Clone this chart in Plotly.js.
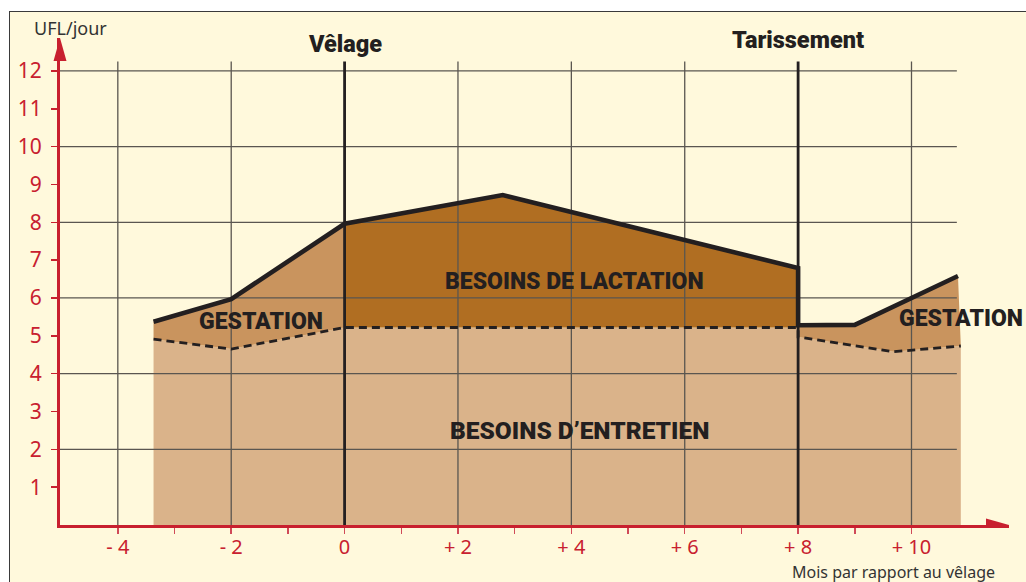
<!DOCTYPE html>
<html>
<head>
<meta charset="utf-8">
<script src="https://cdn.plot.ly/plotly-3.0.1.min.js"></script>
<style>
  html, body { margin:0; padding:0; background:#ffffff; width:1026px; height:582px; overflow:hidden; }
  #frame { position:absolute; left:9px; top:11px; width:1030px; height:580px; background:#FFF9DC;
           border-left:1.5px solid #3a3a3a; border-top:1.5px solid #3a3a3a; }
  #chart { position:absolute; left:0; top:0; width:1026px; height:582px; }
</style>
</head>
<body>
<div id="frame"></div>
<div id="chart"></div>
<script>
// ---- data ----
const tickMonths = [-4, -3, -2, -1, 0, 1, 2, 3, 4, 5, 6, 7, 8, 9, 10];
const tickMonthLabels = ['- 4', '', '- 2', '', '0', '', '+ 2', '', '+ 4', '', '+ 6', '', '+ 8', '', '+ 10'];
const tickUFL = [1, 2, 3, 4, 5, 6, 7, 8, 9, 10, 11, 12];
const gridMonths = [-4, -2, 2, 4, 6, 10];
const gridUFL = [2, 4, 6, 8, 10, 12];
const eventMonths = [0, 8];
const eventLabels = ['Vêlage', 'Tarissement'];

// besoins d'entretien (dashed line)
const entretienMonths = [-3.37, -2, 0, 8, 8, 9.68, 10.87];
const entretienUFL    = [4.91, 4.65, 5.22, 5.22, 4.97, 4.58, 4.73];
// total needs (solid line), by period
const gestationLeftMonths  = [-3.37, -2, 0];
const gestationLeftUFL     = [5.37, 5.97, 7.96];
const lactationMonths      = [0, 2.79, 8];
const lactationUFL         = [7.96, 8.72, 6.79];
const gestationRightMonths = [8, 9, 10.82];
const gestationRightUFL    = [5.28, 5.29, 6.58];

// ---- styles ----
const RED = '#C8202F';
const INK = '#231F20';
const GRID = '#5a5650';
const C_ENTRETIEN = '#DAB38A';
const C_GESTATION = '#C9945E';
const C_LACTATION = '#B06E22';
const GRID_TOP = 12.25, GRID_RIGHT = 10.8;
const TICKFONT = 'Noto Sans, sans-serif';
const BOLDFONT = 'Roboto, Arial, sans-serif';

function polygon(topX, topY, botX, botY) {
  return { x: topX.concat(botX.slice().reverse()), y: topY.concat(botY.slice().reverse()) };
}
const pGL = polygon(gestationLeftMonths, gestationLeftUFL, entretienMonths.slice(0, 3), entretienUFL.slice(0, 3));
const pL  = polygon(lactationMonths, lactationUFL, entretienMonths.slice(2, 4), entretienUFL.slice(2, 4));
const pGR = polygon(gestationRightMonths, gestationRightUFL, entretienMonths.slice(4), entretienUFL.slice(4));

const traces = [];
traces.push({ x: entretienMonths, y: entretienUFL, type: 'scatter', mode: 'lines', fill: 'tozeroy',
  fillcolor: C_ENTRETIEN, line: { width: 0 } });
traces.push({ x: pGL.x, y: pGL.y, type: 'scatter', mode: 'lines', fill: 'toself', fillcolor: C_GESTATION, line: { width: 0 } });
traces.push({ x: pL.x, y: pL.y, type: 'scatter', mode: 'lines', fill: 'toself', fillcolor: C_LACTATION, line: { width: 0 } });
traces.push({ x: pGR.x, y: pGR.y, type: 'scatter', mode: 'lines', fill: 'toself', fillcolor: C_GESTATION, line: { width: 0 } });

// grid lines (drawn above fills)
const gvx = [], gvy = [];
gridMonths.forEach(m => { gvx.push(m, m, null); gvy.push(0, GRID_TOP, null); });
const ghx = [], ghy = [];
gridUFL.forEach(v => { ghx.push(-5.02, GRID_RIGHT, null); ghy.push(v, v, null); });
traces.push({ x: gvx, y: gvy, type: 'scatter', mode: 'lines', line: { color: GRID, width: 1.3 } });
traces.push({ x: ghx, y: ghy, type: 'scatter', mode: 'lines', line: { color: GRID, width: 1.3 } });

// event lines
const evx = [], evy = [];
eventMonths.forEach(m => { evx.push(m, m, null); evy.push(0, GRID_TOP, null); });
traces.push({ x: evx, y: evy, type: 'scatter', mode: 'lines', line: { color: INK, width: 2.8 } });

// dashed entretien line
traces.push({ x: entretienMonths, y: entretienUFL, type: 'scatter', mode: 'lines',
  line: { color: INK, width: 2.8, dash: '8px,5px' } });

// solid total line
const solidX = gestationLeftMonths.concat(lactationMonths.slice(1), gestationRightMonths);
const solidY = gestationLeftUFL.concat(lactationUFL.slice(1), gestationRightUFL);
traces.push({ x: solidX, y: solidY, type: 'scatter', mode: 'lines', line: { color: INK, width: 4.6 } });

const boldFont = (s) => ({ family: BOLDFONT, size: s, color: INK, weight: 900 });
const C = { xanchor: 'center', yanchor: 'middle', showarrow: false };

const annotations = [
  Object.assign({ text: 'UFL/jour', xref: 'paper', yref: 'paper', x: 0.011, y: 1.0205,
    font: { family: TICKFONT, size: 18, color: '#333333' } }, C),
  Object.assign({ text: eventLabels[0], xref: 'x', yref: 'paper', x: eventMonths[0], y: 0.988, font: boldFont(23.5) }, C),
  Object.assign({ text: eventLabels[1], xref: 'x', yref: 'paper', x: eventMonths[1], y: 0.996, font: boldFont(23.5) }, C),
  Object.assign({ text: 'GESTATION', x: -1.48, y: 5.37, font: boldFont(23) }, C),
  Object.assign({ text: 'GESTATION', x: 10.88, y: 5.47, font: boldFont(23) }, C),
  Object.assign({ text: 'BESOINS DE LACTATION', x: 4.05, y: 6.44, font: boldFont(23) }, C),
  Object.assign({ text: 'BESOINS D’ENTRETIEN', x: 4.14, y: 2.51, font: boldFont(24.5) }, C),
  Object.assign({ text: 'Mois par rapport au vêlage', xref: 'paper', yref: 'paper', x: 0.878, y: -0.0955,
    font: { family: TICKFONT, size: 16, color: '#333333' } }, C)
];

const layout = {
  width: 1026, height: 582,
  margin: { l: 60, r: 17, t: 38, b: 57 },
  paper_bgcolor: 'rgba(0,0,0,0)', plot_bgcolor: 'rgba(0,0,0,0)',
  showlegend: false,
  xaxis: { range: [-5.02, 11.72], tickvals: tickMonths, ticktext: tickMonthLabels,
    showgrid: false, zeroline: false, showline: true, linecolor: RED, linewidth: 3,
    ticks: 'outside', ticklen: 6, tickwidth: 1.5, tickcolor: '#d04a58',
    tickfont: { family: TICKFONT, size: 20, color: RED }, ticklabelstandoff: -4, fixedrange: true },
  yaxis: { range: [0, 12.87], tickvals: tickUFL,
    showgrid: false, zeroline: false, showline: true, linecolor: RED, linewidth: 3,
    ticks: 'outside', ticklen: 6, tickwidth: 1.5, tickcolor: RED,
    tickfont: { family: TICKFONT, size: 21, color: RED }, ticklabelstandoff: 5, fixedrange: true },
  annotations: annotations,
  shapes: [
    { type: 'path', xref: 'paper', yref: 'y', xsizemode: 'pixel', ysizemode: 'pixel', xanchor: 1, yanchor: 0,
      path: 'M0,0 L-23,6.5 L-23,-6.5 Z', fillcolor: RED, line: { width: 0 } },
    { type: 'path', xref: 'paper', yref: 'paper', xsizemode: 'pixel', ysizemode: 'pixel', xanchor: 0, yanchor: 1,
      path: 'M0,0 L-6.5,-23 L6.5,-23 Z', fillcolor: RED, line: { width: 0 } }
  ]
};

traces.forEach(t => { t.hoverinfo = 'skip'; });
Plotly.newPlot('chart', traces, layout, { staticPlot: true, displayModeBar: false });
</script>
</body>
</html>
